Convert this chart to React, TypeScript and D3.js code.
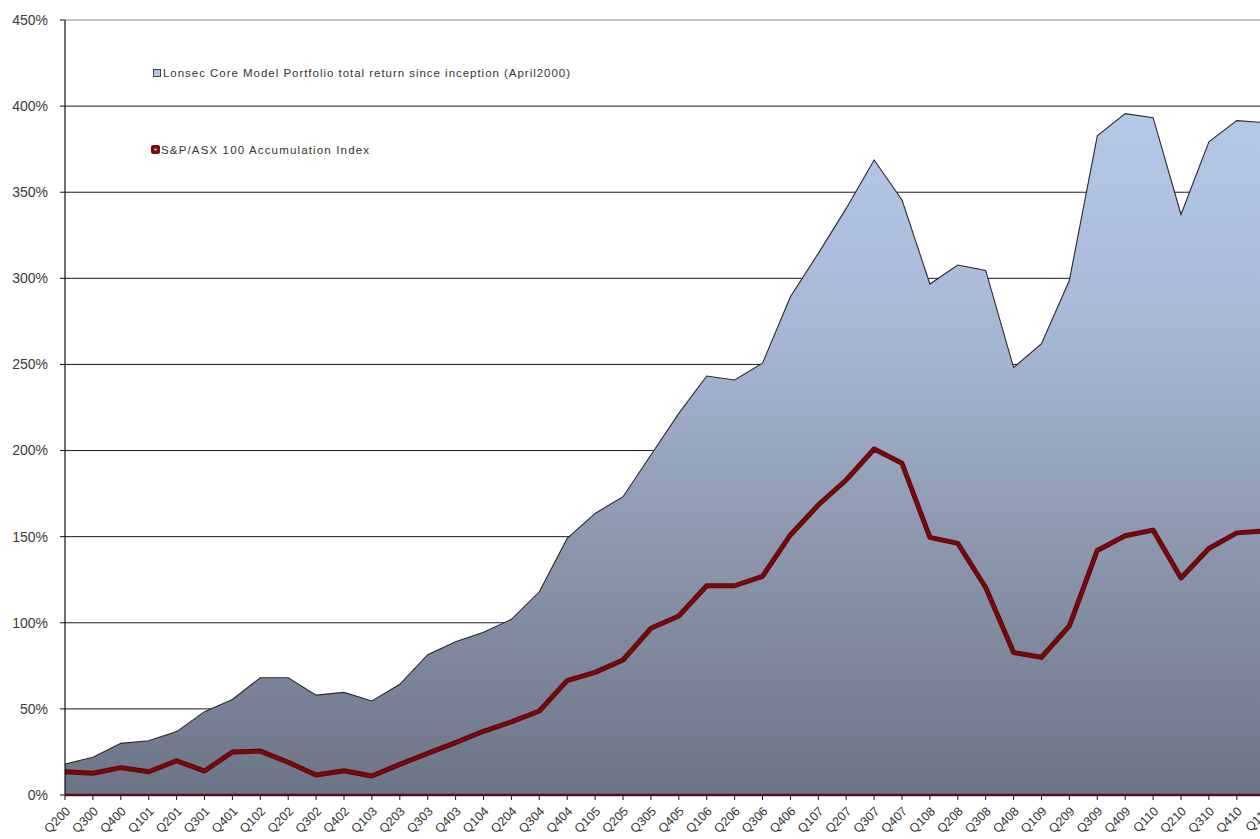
import React from "react";
import * as d3 from "d3";

const quarters = [
  "Q200","Q300","Q400","Q101","Q201","Q301","Q401","Q102","Q202","Q302","Q402",
  "Q103","Q203","Q303","Q403","Q104","Q204","Q304","Q404","Q105","Q205","Q305",
  "Q405","Q106","Q206","Q306","Q406","Q107","Q207","Q307","Q407","Q108","Q208",
  "Q308","Q408","Q109","Q209","Q309","Q409","Q110","Q210","Q310","Q410","Q111",
];

const lonsecReturn = [
  18, 21.9, 30, 31.5, 36.8, 48.4, 55.5, 68.1, 68.1, 58, 59.6,
  54.6, 64.3, 81.5, 89, 94.5, 102, 118, 149, 163.5, 173.2, 197.4,
  221.6, 243.3, 241, 250.7, 289.3, 314.5, 340.6, 368.7, 345.5, 296.7, 307.7,
  304.6, 248.2, 262, 298.9, 382.7, 395.6, 393.3, 337.1, 379.3, 391.6, 390.4,
];

const asx100Index = [
  13.5, 12.6, 15.9, 13.5, 19.9, 13.9, 25, 25.5, 19, 11.6, 14.1,
  11, 17.8, 24.2, 30.4, 37, 42.5, 48.8, 66.4, 71.2, 78.4, 96.8,
  103.9, 121.5, 121.5, 127, 151, 168.4, 182.9, 200.9, 192.6, 149.6, 146.1,
  120.5, 82.7, 80, 98.2, 142, 150.5, 153.8, 126, 143.1, 152.2, 153.3,
];

const yTicks = [0, 50, 100, 150, 200, 250, 300, 350, 400, 450];

const legendLabels = [
  "Lonsec Core Model Portfolio total return since inception (April2000)",
  "S&P/ASX  100 Accumulation Index",
];

export default function App() {
  const W = 1260;
  const H = 839;
  const left = 65;
  const top = 20;
  const bottom = 795;
  const step = 27.9;

  const x = d3
    .scalePoint<string>()
    .domain(quarters)
    .range([left, left + step * (quarters.length - 1)]);
  const y = d3.scaleLinear().domain([0, 450]).range([bottom, top]);

  const area = d3
    .area<number>()
    .x((_, i) => x(quarters[i]) as number)
    .y0(y(0))
    .y1((d) => y(d));
  const line = d3
    .line<number>()
    .x((_, i) => x(quarters[i]) as number)
    .y((d) => y(d));

  const font = "Arial, 'Liberation Sans', sans-serif";

  return (
    <svg
      width={W}
      height={H}
      style={{ position: "absolute", left: 0, top: 0, display: "block", background: "#fff" }}
      fontFamily={font}
    >
      <defs>
        <linearGradient id="areaGrad" gradientUnits="userSpaceOnUse" x1="0" y1={y(420)} x2="0" y2={y(0)}>
          <stop offset="0" stopColor="#b9cbec" />
          <stop offset="0.35" stopColor="#a7b8d7" />
          <stop offset="0.7" stopColor="#8892a8" />
          <stop offset="1" stopColor="#6c7487" />
        </linearGradient>
      </defs>

      {/* gridlines */}
      {yTicks.filter((t) => t > 0).map((t) => (
        <line
          key={t}
          x1={left}
          x2={W}
          y1={y(t)}
          y2={y(t)}
          stroke={t === 450 ? "#8a8a8a" : "#1a1a1a"}
          strokeWidth={1}
        />
      ))}

      {/* area */}
      <path d={area(lonsecReturn) || ""} fill="url(#areaGrad)" />
      <path d={line(lonsecReturn) || ""} fill="none" stroke="#2a2a2a" strokeWidth={1.1} />

      {/* red line */}
      <path
        d={line(asx100Index) || ""}
        fill="none"
        stroke="#5e0606"
        strokeWidth={5}
        strokeLinejoin="round"
      />
      <path
        d={line(asx100Index) || ""}
        fill="none"
        stroke="#780a0c"
        strokeWidth={3}
        strokeLinejoin="round"
      />

      {/* y axis */}
      <line x1={left} x2={left} y1={top} y2={bottom} stroke="#111" strokeWidth={1.2} />
      {yTicks.map((t) => (
        <g key={t}>
          <line x1={left - 5} x2={left} y1={y(t)} y2={y(t)} stroke="#111" />
          <text
            x={48}
            y={y(t)}
            dy="0.35em"
            textAnchor="end"
            fontSize={14}
            fill="#3f3838"
          >
            {t}%
          </text>
        </g>
      ))}

      {/* x axis */}
      <line x1={left} x2={W} y1={bottom} y2={bottom} stroke="#5a0a0a" strokeWidth={2.5} />
      {quarters.map((q) => {
        const px = x(q) as number;
        return (
          <g key={q}>
            <line x1={px} x2={px} y1={bottom} y2={bottom + 5} stroke="#111" />
            <text
              transform={`translate(${px + 6},${bottom + 17}) rotate(-45)`}
              textAnchor="end"
              fontSize={12.5}
              fill="#333"
            >
              {q}
            </text>
          </g>
        );
      })}

      {/* legend */}
      <rect x={153.5} y={69.5} width={7} height={7} fill="#b4c5e6" stroke="#444" strokeWidth={1} />
      <text x={163} y={77} fontSize={11.5} fill="#333" textLength={407} lengthAdjust="spacing">
        {legendLabels[0]}
      </text>
      <rect x={151} y={145} width={9} height={9} rx={2} fill="#7a0c10" />
      <rect x={154.5} y={148.5} width={2} height={2} fill="#e8c8c8" />
      <text x={161} y={154} fontSize={11.5} fill="#333" textLength={208} lengthAdjust="spacing">
        {legendLabels[1]}
      </text>
    </svg>
  );
}
